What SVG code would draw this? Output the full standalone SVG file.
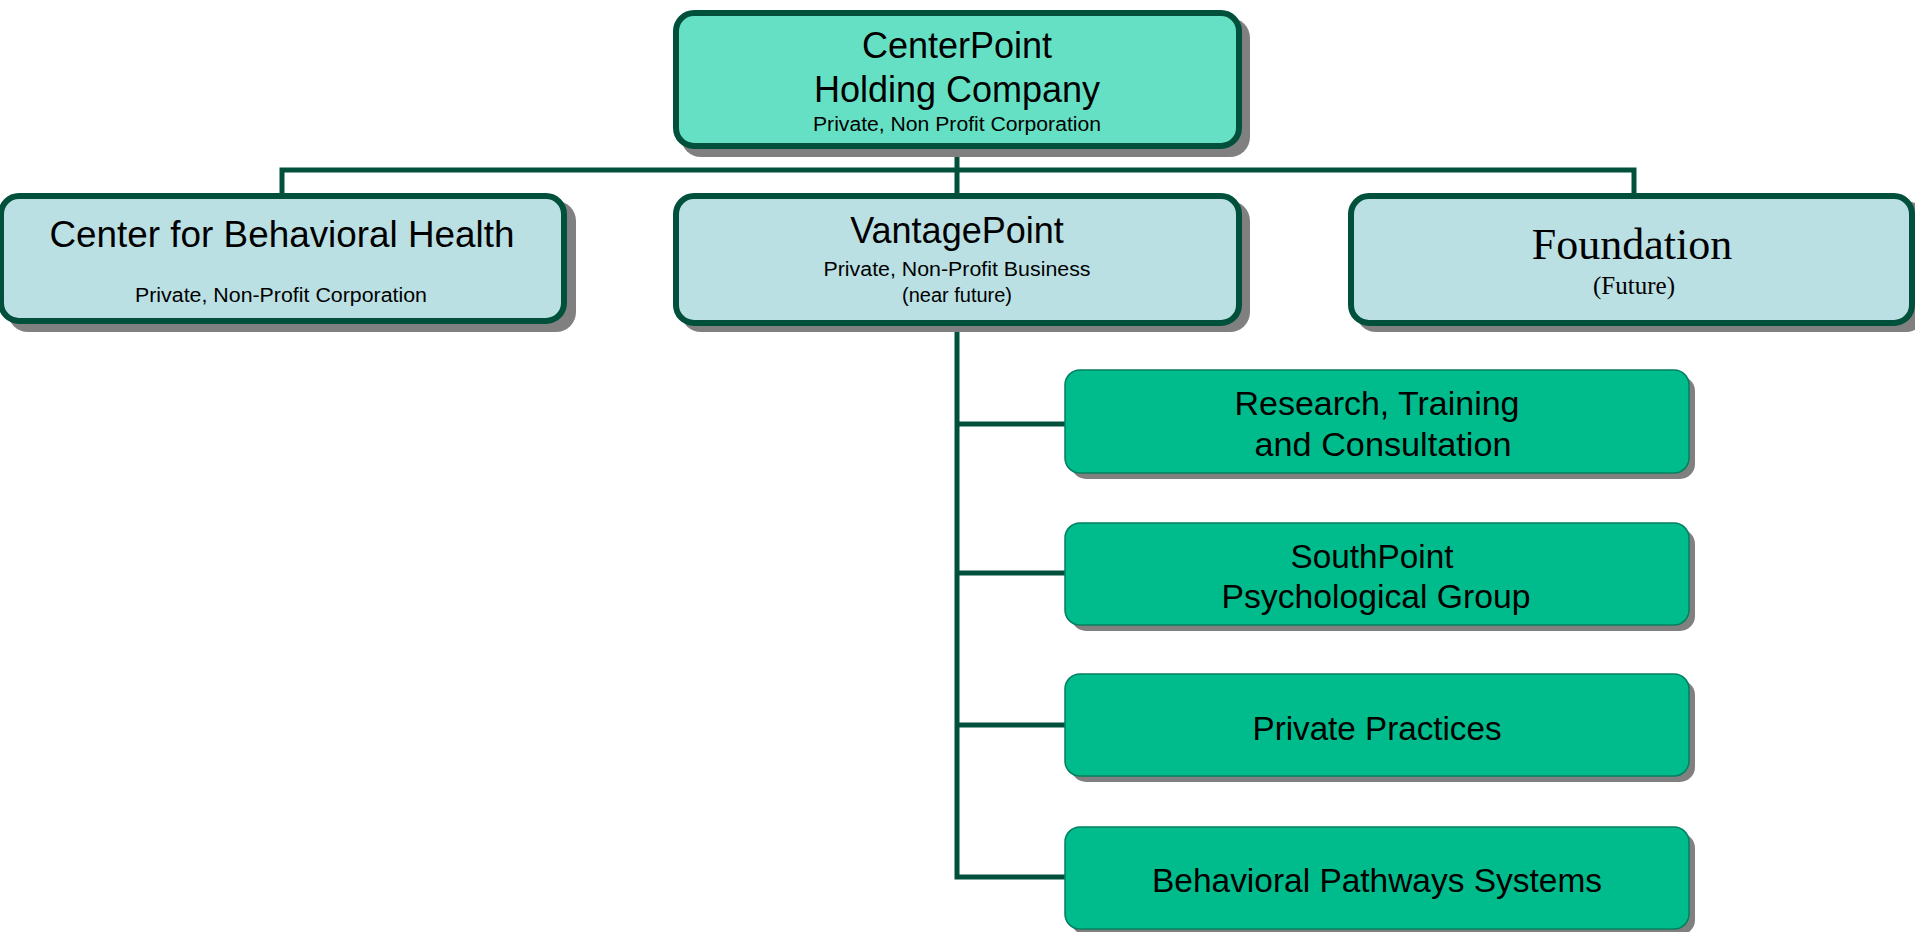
<svg xmlns="http://www.w3.org/2000/svg" width="1915" height="932" viewBox="0 0 1915 932">
<style>
.big{stroke:#00503C;stroke-width:6}
.top{fill:#66E0C4}
.mid{fill:#BAE0E4}
.sh{fill:#808080}
.kid{fill:#00BC8C;stroke:#00805F;stroke-width:1.5}
.a{font-family:"Liberation Sans",Arial,sans-serif;fill:#000;text-anchor:middle}
.t{font-family:"Liberation Serif","Times New Roman",serif;fill:#000;text-anchor:middle}
.c{fill:none;stroke:#00503C;stroke-width:5}
</style>
<rect width="1915" height="932" fill="#fff"/>
<g id="connectors">
<path class="c" d="M282,193 V170 H1634 V193 M957,149 V193"/>
<path class="c" d="M957,326 V877 H1065 M957,424 H1065 M957,573 H1065 M957,725 H1065"/>
</g>
<g id="centerpoint">
<rect class="sh" x="681" y="18" width="569" height="139" rx="20"/>
<rect class="big top" x="676" y="13" width="563" height="133" rx="18"/>
<text class="a" x="957" y="58" font-size="36">CenterPoint</text>
<text class="a" x="957" y="102" font-size="36">Holding Company</text>
<text class="a" x="957" y="131" font-size="20" textLength="288" lengthAdjust="spacingAndGlyphs">Private, Non Profit Corporation</text>
</g>
<g id="cbh">
<rect class="sh" x="8" y="201" width="568" height="131" rx="20"/>
<rect class="big mid" x="1" y="196" width="563" height="125" rx="18"/>
<text class="a" x="282" y="247" font-size="36" textLength="465" lengthAdjust="spacingAndGlyphs">Center for Behavioral Health</text>
<text class="a" x="281" y="302" font-size="20" textLength="292" lengthAdjust="spacingAndGlyphs">Private, Non-Profit Corporation</text>
</g>
<g id="vantagepoint">
<rect class="sh" x="681" y="201" width="569" height="131" rx="20"/>
<rect class="big mid" x="676" y="196" width="563" height="127" rx="18"/>
<text class="a" x="957" y="243" font-size="36">VantagePoint</text>
<text class="a" x="957" y="276" font-size="20" textLength="267" lengthAdjust="spacingAndGlyphs">Private, Non-Profit Business</text>
<text class="a" x="957" y="302" font-size="20">(near future)</text>
</g>
<g id="foundation">
<rect class="sh" x="1356" y="201" width="570" height="131" rx="20"/>
<rect class="big mid" x="1351" y="196" width="561" height="127" rx="18"/>
<text class="t" x="1632" y="259" font-size="44">Foundation</text>
<text class="t" x="1634" y="294" font-size="25">(Future)</text>
</g>
<g id="research">
<rect class="sh" x="1071" y="376" width="624" height="103" rx="15"/>
<rect class="kid" x="1065" y="370" width="624" height="103" rx="15"/>
<text class="a" x="1377" y="415" font-size="34" textLength="285" lengthAdjust="spacingAndGlyphs">Research, Training</text>
<text class="a" x="1383" y="456" font-size="34" textLength="257" lengthAdjust="spacingAndGlyphs">and Consultation</text>
</g>
<g id="southpoint">
<rect class="sh" x="1071" y="529" width="624" height="102" rx="15"/>
<rect class="kid" x="1065" y="523" width="624" height="102" rx="15"/>
<text class="a" x="1372" y="568" font-size="34" textLength="163" lengthAdjust="spacingAndGlyphs">SouthPoint</text>
<text class="a" x="1376" y="608" font-size="34" textLength="309" lengthAdjust="spacingAndGlyphs">Psychological Group</text>
</g>
<g id="private">
<rect class="sh" x="1071" y="680" width="624" height="102" rx="15"/>
<rect class="kid" x="1065" y="674" width="624" height="102" rx="15"/>
<text class="a" x="1377" y="740" font-size="34" textLength="249" lengthAdjust="spacingAndGlyphs">Private Practices</text>
</g>
<g id="pathways">
<rect class="sh" x="1071" y="833" width="624" height="102" rx="15"/>
<rect class="kid" x="1065" y="827" width="624" height="102" rx="15"/>
<text class="a" x="1377" y="892" font-size="34" textLength="450" lengthAdjust="spacingAndGlyphs">Behavioral Pathways Systems</text>
</g>
</svg>
